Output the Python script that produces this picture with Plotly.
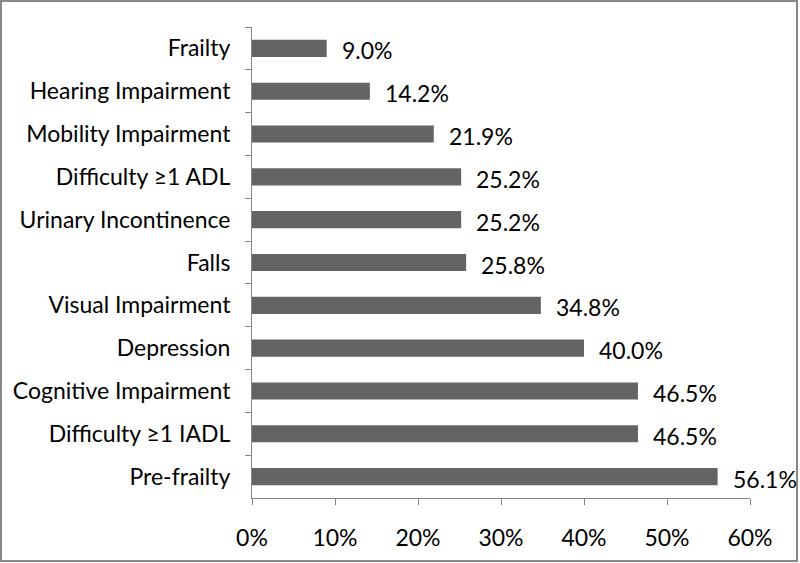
import plotly.graph_objects as go

categories = ["Frailty", "Hearing Impairment", "Mobility Impairment", "Difficulty ≥1 ADL",
              "Urinary Incontinence", "Falls", "Visual Impairment", "Depression",
              "Cognitive Impairment", "Difficulty ≥1 IADL", "Pre-frailty"]
values = [9.0, 14.2, 21.9, 25.2, 25.2, 25.8, 34.8, 40.0, 46.5, 46.5, 56.1]
x_ticks = [0, 10, 20, 30, 40, 50, 60]
x_tick_labels = [f"{t}%" for t in x_ticks]

FONT = "Lato"
FS = 23
AXIS_COLOR = "#868686"

fig = go.Figure(go.Bar(
    x=values, y=categories, orientation="h",
    marker=dict(color="#646464", line=dict(width=0)),
    hoverinfo="skip",
))

for c, v in zip(categories, values):
    fig.add_annotation(x=v, y=c, xref="x", yref="y", text=f"{v:.1f}%",
                       showarrow=False, xanchor="left", xshift=13, yshift=-2,
                       font=dict(family=FONT, size=FS, color="black"))

L, R, T, B = 252, 50, 27, 65
W, H = 800, 563
pw, ph = W - L - R, H - T - B
fig.add_shape(type="rect", xref="paper", yref="paper",
              x0=(1 - L) / pw, x1=(W - 3 - L) / pw,
              y0=-(H - 2 - (T + ph)) / ph, y1=(T + ph - 1) / ph,
              line=dict(color="#878787", width=2), fillcolor="rgba(0,0,0,0)", layer="below")

fig.update_layout(
    width=W, height=H,
    margin=dict(l=L, r=R, t=T, b=B),
    paper_bgcolor="white", plot_bgcolor="white",
    bargap=0.6, showlegend=False,
    font=dict(family=FONT, size=FS, color="black"),
    xaxis=dict(range=[0, 60], tickvals=x_ticks, ticktext=x_tick_labels,
               showgrid=False, zeroline=False, showline=True, linecolor=AXIS_COLOR, linewidth=1,
               ticks="outside", ticklen=6, tickcolor=AXIS_COLOR, tickwidth=1,
               ticklabelstandoff=13, tickfont=dict(family=FONT, size=FS, color="black"), fixedrange=True),
    yaxis=dict(autorange="reversed", type="category", showgrid=False, zeroline=False,
               showline=True, linecolor=AXIS_COLOR, linewidth=1,
               ticks="outside", ticklen=6, tickcolor=AXIS_COLOR, tickwidth=1, tickson="boundaries",
               ticklabelstandoff=16, tickfont=dict(family=FONT, size=FS, color="black"), fixedrange=True),
)

fig.write_html("out.html", config={"displayModeBar": False},
               post_script="document.body.style.margin='0';document.body.style.overflow='hidden';")
